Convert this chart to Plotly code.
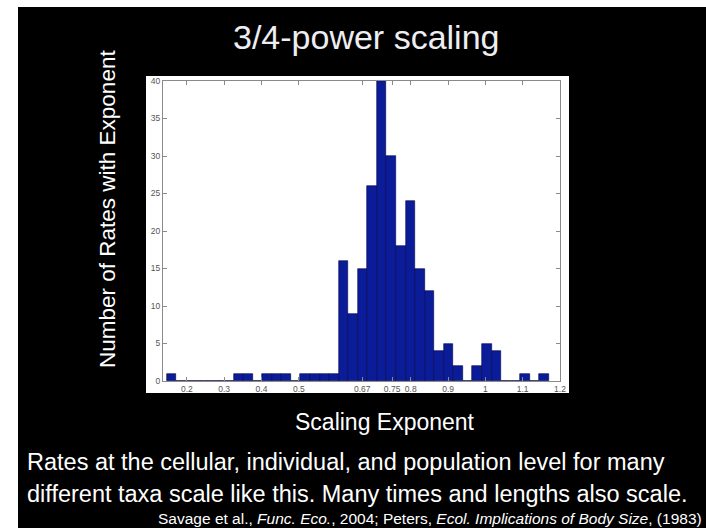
import plotly.graph_objects as go

# ---- data ----
bin_start = 0.146
bin_width = 0.0256
counts = [1, 0, 0, 0, 0, 0, 0, 1, 1, 0,
          1, 1, 1, 0, 1, 1, 1, 1, 16, 9,
          15, 26, 40, 30, 18, 24, 15, 12, 4, 5,
          2, 0, 2, 5, 4, 0, 0, 1, 0, 1]
x_tickvals = [0.2, 0.3, 0.4, 0.5, 0.67, 0.75, 0.8, 0.9, 1.0, 1.1, 1.2]
x_ticktext = ["0.2", "0.3", "0.4", "0.5", "0.67", "0.75", "0.8", "0.9", "1", "1.1", "1.2"]
y_tickvals = [0, 5, 10, 15, 20, 25, 30, 35, 40]

centers = [bin_start + bin_width * (i + 0.5) for i in range(len(counts))]

W, H = 706, 528
L, R, T, B = 163, 560, 81, 381  # plot area in px


def px(xs):
    return (xs - L) / (R - L)


def py(ys):
    return (B - ys) / (B - T)


fig = go.Figure()
fig.add_trace(go.Bar(
    x=centers, y=counts, width=bin_width,
    marker=dict(color="#0b1c98", line=dict(color="#00004a", width=0.6)),
    hoverinfo="x+y",
))

axis_common = dict(
    showline=True, mirror="ticks", linecolor="#8a8a8a", linewidth=1,
    ticks="inside", ticklen=4, tickcolor="#8a8a8a", tickwidth=1,
    showgrid=False, zeroline=False,
    tickfont=dict(family="Liberation Sans, Arial, sans-serif", size=8.5, color="#555555"),
)

fig.update_xaxes(range=[0.136, 1.2], tickmode="array", tickvals=x_tickvals,
                 ticktext=x_ticktext, **axis_common)
fig.update_yaxes(range=[0, 40], tickmode="array", tickvals=y_tickvals, **axis_common)

shapes = [
    # black slide background (white strips at top and left edges)
    dict(type="rect", xref="paper", yref="paper", layer="below",
         x0=px(18), x1=px(720), y0=py(7), y1=py(540),
         fillcolor="black", line=dict(width=0)),
    # white figure frame
    dict(type="rect", xref="paper", yref="paper", layer="below",
         x0=px(146), x1=px(569), y0=py(76), y1=py(393),
         fillcolor="white", line=dict(width=0)),
]

font = "Liberation Sans, Arial, Helvetica, sans-serif"
ann = [
    dict(text="3/4-power scaling", x=px(366), y=py(37.5), xanchor="center", yanchor="middle",
         font=dict(family=font, size=34, color="#eeeef2")),
    dict(text="Number of Rates with Exponent", x=px(107), y=py(209), xanchor="center",
         yanchor="middle", textangle=-90, font=dict(family=font, size=22.5, color="white")),
    dict(text="Scaling Exponent", x=px(385), y=py(422), xanchor="center", yanchor="middle",
         font=dict(family=font, size=23, color="white")),
    dict(text="Rates at the cellular, individual, and population level for many",
         x=px(25), y=py(462), xanchor="left", yanchor="middle",
         font=dict(family=font, size=23.5, color="white")),
    dict(text="different taxa scale like this. Many times and lengths also scale.",
         x=px(25), y=py(494), xanchor="left", yanchor="middle",
         font=dict(family=font, size=23.5, color="white")),
    dict(text="Savage et al., <i>Func. Eco.</i>, 2004; Peters, <i>Ecol. Implications of Body Size</i>, (1983)",
         x=px(704), y=py(518), xanchor="right", yanchor="middle",
         font=dict(family=font, size=15.5, color="white")),
]
for a in ann:
    a.update(xref="paper", yref="paper", showarrow=False)

fig.update_layout(
    width=W, height=H,
    margin=dict(l=L, r=W - R, t=T, b=H - B, pad=0),
    paper_bgcolor="white", plot_bgcolor="white",
    shapes=shapes, annotations=ann,
    showlegend=False, bargap=0,
)

fig.write_html(
    "out.html",
    config={"displayModeBar": False},
    post_script="document.body.style.margin='0';document.body.style.overflow='hidden';",
)
